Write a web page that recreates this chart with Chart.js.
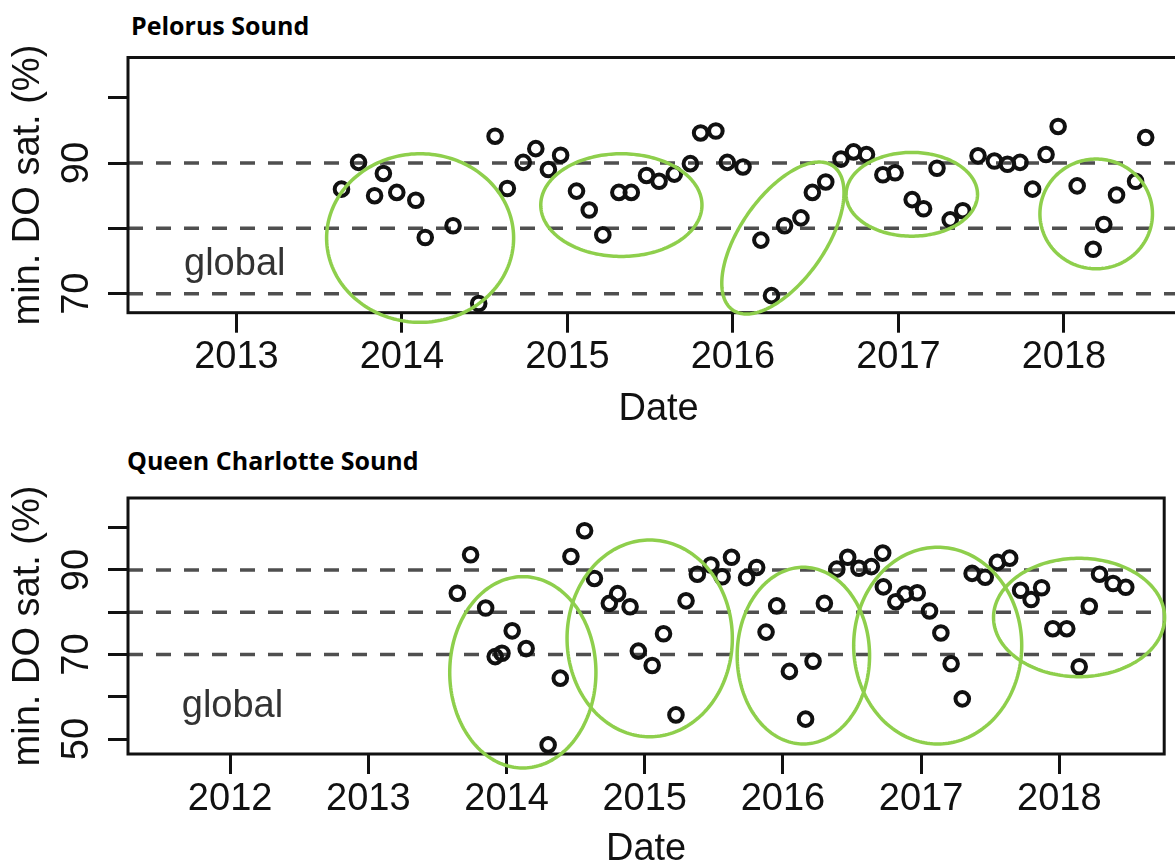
<!DOCTYPE html>
<html>
<head>
<meta charset="utf-8">
<script src="https://cdn.jsdelivr.net/npm/chart.js@4.4.0/dist/chart.umd.min.js"></script>
<style>
  html, body { margin: 0; padding: 0; background: #fff; }
  #wrap { position: relative; width: 1175px; height: 865px; overflow: hidden; background: #fff; }
  .panel-title { position: absolute; font-family: 'Open Sans', sans-serif; font-weight: 700;
                 font-size: 25px; line-height: 25px; color: #000; white-space: nowrap; }
  canvas { position: absolute; left: 0; }
</style>
</head>
<body>
<div id="wrap">
  <div class="panel-title" style="left:131px; top:13px;">Pelorus Sound</div>
  <canvas id="pelorus" width="1200" height="440" style="top:0"></canvas>
  <div class="panel-title" style="left:127px; top:448px;">Queen Charlotte Sound</div>
  <canvas id="qcs" width="1175" height="440" style="top:440px"></canvas>
</div>
<script>
// ---- Pelorus Sound: minimum dissolved-oxygen saturation per survey (decimal year, %) ----
const pelorusDates = [
  2013.635, 2013.738, 2013.835, 2013.888, 2013.969, 2014.084, 2014.141, 2014.309, 2014.464, 2014.563,
  2014.637, 2014.733, 2014.809, 2014.885, 2014.959, 2015.055, 2015.132, 2015.214, 2015.311, 2015.386,
  2015.478, 2015.554, 2015.646, 2015.743, 2015.805, 2015.897, 2015.966, 2016.061, 2016.169, 2016.233,
  2016.312, 2016.411, 2016.480, 2016.561, 2016.653, 2016.729, 2016.807, 2016.906, 2016.980, 2017.083,
  2017.152, 2017.233, 2017.313, 2017.389, 2017.481, 2017.580, 2017.659, 2017.735, 2017.811, 2017.892,
  2017.965, 2018.080, 2018.177, 2018.241, 2018.318, 2018.433, 2018.494
];
const pelorusDO = [
  86.0, 90.1, 85.0, 88.4, 85.5, 84.3, 78.6, 80.4, 68.5, 94.1,
  86.1, 90.1, 92.2, 89.0, 91.2, 85.7, 82.8, 79.0, 85.5, 85.5,
  88.1, 87.2, 88.3, 89.9, 94.6, 94.9, 90.1, 89.4, 78.2, 69.7,
  80.4, 81.6, 85.5, 87.1, 90.6, 91.7, 91.3, 88.2, 88.5, 84.4,
  83.0, 89.2, 81.3, 82.7, 91.1, 90.3, 89.8, 90.1, 86.0, 91.3,
  95.6, 86.5, 76.8, 80.6, 85.1, 87.2, 93.9
];

// ---- Queen Charlotte Sound ----
const qcsDates = [
  2013.644, 2013.740, 2013.849, 2013.918, 2013.967, 2014.041, 2014.142, 2014.301, 2014.389, 2014.466,
  2014.565, 2014.636, 2014.744, 2014.804, 2014.894, 2014.954, 2015.054, 2015.136, 2015.226, 2015.299,
  2015.381, 2015.479, 2015.560, 2015.628, 2015.737, 2015.810, 2015.878, 2015.955, 2016.047, 2016.164,
  2016.218, 2016.300, 2016.390, 2016.469, 2016.550, 2016.640, 2016.722, 2016.727, 2016.817, 2016.885,
  2016.972, 2017.061, 2017.143, 2017.217, 2017.298, 2017.369, 2017.464, 2017.551, 2017.641, 2017.720,
  2017.796, 2017.872, 2017.953, 2018.054, 2018.144, 2018.217, 2018.291, 2018.389, 2018.481
];
const qcsDO = [
  84.5, 93.6, 81.0, 69.5, 70.3, 75.6, 71.4, 48.6, 64.4, 93.2,
  99.3, 88.0, 82.1, 84.4, 81.3, 70.8, 67.4, 74.9, 55.7, 82.7,
  89.0, 91.2, 88.4, 93.0, 88.2, 90.6, 75.3, 81.5, 66.0, 54.7,
  68.4, 82.1, 90.2, 93.0, 90.4, 90.8, 94.0, 86.0, 82.5, 84.3,
  84.6, 80.3, 75.1, 67.8, 59.5, 89.2, 88.3, 91.8, 92.8, 85.2,
  83.0, 85.8, 76.1, 76.1, 67.1, 81.4, 89.0, 86.8, 85.9
];

// reference thresholds (dashed lines)
const thresholds = [70, 80, 90];

// axis ticks
const pelorusYearTicks = [2013, 2014, 2015, 2016, 2017, 2018];
const pelorusYearLabels = ['2013', '2014', '2015', '2016', '2017', '2018'];
const pelorusYTicks = [70, 80, 90, 100];
const pelorusYLabels = ['70', '', '90', ''];
const pelorusXRange = [2012.345, 2018.757];
const pelorusYRange = [67.09, 106.15];

const qcsYearTicks = [2012, 2013, 2014, 2015, 2016, 2017, 2018];
const qcsYearLabels = ['2012', '2013', '2014', '2015', '2016', '2017', '2018'];
const qcsYTicks = [50, 60, 70, 80, 90, 100];
const qcsYLabels = ['50', '', '70', '', '90', ''];
const qcsXRange = [2011.261, 2018.759];
const qcsYRange = [46.45, 107.04];

// highlighted groups: centre (year, %) and two semi-axis vectors in (years, %)
const pelorusGroups = [
  { t: 2014.110, v: 78.52, a: [0.565, 0], b: [0, 12.90] },
  { t: 2015.326, v: 83.56, a: [0.487, 0], b: [0, 7.86] },
  { t: 2016.302, v: 78.52, a: [0.3035, 11.01], b: [0.2103, -3.74] },
  { t: 2017.081, v: 85.21, a: [0.397, 0], b: [0, 6.41] },
  { t: 2018.195, v: 82.21, a: [0.340, 0], b: [0, 8.40] }
];
const qcsGroups = [
  { t: 2014.118, v: 65.78, a: [0.529, 0], b: [0, 22.64] },
  { t: 2015.036, v: 73.82, a: [0.598, 0], b: [0, 23.28] },
  { t: 2016.148, v: 69.73, a: [0.479, 0], b: [0, 20.91] },
  { t: 2017.120, v: 72.10, a: [0.608, 0], b: [0, 23.28] },
  { t: 2018.143, v: 78.76, a: [0.619, 0], b: [0, 14.01] }
];

const FONT = "'Liberation Sans', Arial, sans-serif";
const INK = '#111';

function overlay(groups, tag) {
  return {
    id: 'overlay',
    afterDatasetsDraw(chart) {
      const { ctx, chartArea: a, scales: { x, y } } = chart;
      ctx.save();
      // plot frame
      ctx.lineWidth = 3;
      ctx.strokeStyle = INK;
      ctx.strokeRect(a.left, a.top, a.right - a.left, a.bottom - a.top);
      // region tag
      ctx.fillStyle = '#333';
      ctx.font = '38px ' + FONT;
      ctx.textAlign = 'center';
      ctx.textBaseline = 'alphabetic';
      ctx.fillText(tag.text, x.getPixelForValue(tag.t), y.getPixelForValue(tag.v));
      // group outlines
      ctx.strokeStyle = '#8ecf4c';
      ctx.lineWidth = 3.5;
      for (const g of groups) {
        ctx.beginPath();
        const n = 200;
        for (let k = 0; k <= n; k++) {
          const s = (k / n) * 2 * Math.PI;
          const t = g.t + Math.cos(s) * g.a[0] + Math.sin(s) * g.b[0];
          const v = g.v + Math.cos(s) * g.a[1] + Math.sin(s) * g.b[1];
          const px = x.getPixelForValue(t), py = y.getPixelForValue(v);
          if (k === 0) ctx.moveTo(px, py); else ctx.lineTo(px, py);
        }
        ctx.closePath();
        ctx.stroke();
      }
      ctx.restore();
    }
  };
}

function makePanel(id, p) {
  const points = p.dates.map((d, i) => ({ x: d, y: p.values[i] }));
  const lineSets = thresholds.map(h => ({
    data: [{ x: p.xRange[0], y: h }, { x: p.xRange[1], y: h }],
    showLine: true,
    borderColor: '#4f4f4f',
    borderWidth: 3.5,
    borderDash: [15, 13],
    pointRadius: 0,
    order: 1,
    clip: false
  }));
  const tickGrid = {
    drawOnChartArea: false, drawTicks: true, tickLength: 20,
    lineWidth: 3, tickWidth: 3, color: INK, tickColor: INK
  };
  new Chart(document.getElementById(id), {
    type: 'scatter',
    data: {
      datasets: [{
        data: points,
        pointStyle: 'circle',
        pointRadius: 6.8,
        pointBorderWidth: 4,
        pointBorderColor: INK,
        pointBackgroundColor: 'rgba(0,0,0,0)',
        order: 0,
        clip: false
      }, ...lineSets]
    },
    options: {
      responsive: false,
      animation: false,
      events: [],
      layout: { padding: p.padding },
      plugins: { legend: { display: false }, tooltip: { enabled: false } },
      scales: {
        x: {
          type: 'linear', min: p.xRange[0], max: p.xRange[1],
          afterBuildTicks: s => { s.ticks = p.xTicks.map(v => ({ value: v })); },
          afterFit: s => { s.height = p.xHeight; },
          ticks: {
            callback: (v, i) => p.xLabels[i],
            font: { family: FONT, size: 38 }, color: INK, padding: p.xTickPad,
            autoSkip: false, maxRotation: 0, minRotation: 0
          },
          grid: tickGrid,
          border: { display: false },
          title: {
            display: true, text: 'Date', color: INK,
            font: { family: FONT, size: 38 }, padding: { top: 0, bottom: p.dateTitlePad }
          }
        },
        y: {
          type: 'linear', min: p.yRange[0], max: p.yRange[1],
          afterBuildTicks: s => { s.ticks = p.yTicks.map(v => ({ value: v })); },
          afterFit: s => { s.width = 128; },
          ticks: {
            callback: (v, i) => p.yLabels[i],
            font: { family: FONT, size: 38 }, color: INK, padding: 9,
            autoSkip: false, minRotation: 90, maxRotation: 90, crossAlign: 'center'
          },
          grid: tickGrid,
          border: { display: false },
          title: {
            display: true, text: 'min. DO sat. (%)', color: INK,
            font: { family: FONT, size: 38 }, padding: { top: 6, bottom: 0 }
          }
        }
      }
    },
    plugins: [overlay(p.groups, p.tag)]
  });
}

makePanel('pelorus', {
  dates: pelorusDates, values: pelorusDO,
  xTicks: pelorusYearTicks, xLabels: pelorusYearLabels, xRange: pelorusXRange,
  yTicks: pelorusYTicks, yLabels: pelorusYLabels, yRange: pelorusYRange,
  groups: pelorusGroups,
  tag: { text: 'global', t: 2012.99, v: 72.79 },
  padding: { top: 57.5, right: 5, bottom: 0, left: 0 },
  xHeight: 127.3, xTickPad: 2, dateTitlePad: 8
});

makePanel('qcs', {
  dates: qcsDates, values: qcsDO,
  xTicks: qcsYearTicks, xLabels: qcsYearLabels, xRange: qcsXRange,
  yTicks: qcsYTicks, yLabels: qcsYLabels, yRange: qcsYRange,
  groups: qcsGroups,
  tag: { text: 'global', t: 2012.017, v: 55.28 },
  padding: { top: 58, right: 2.3, bottom: 0, left: 0 },
  xHeight: 126, xTickPad: 3, dateTitlePad: 8
});
</script>
</body>
</html>
